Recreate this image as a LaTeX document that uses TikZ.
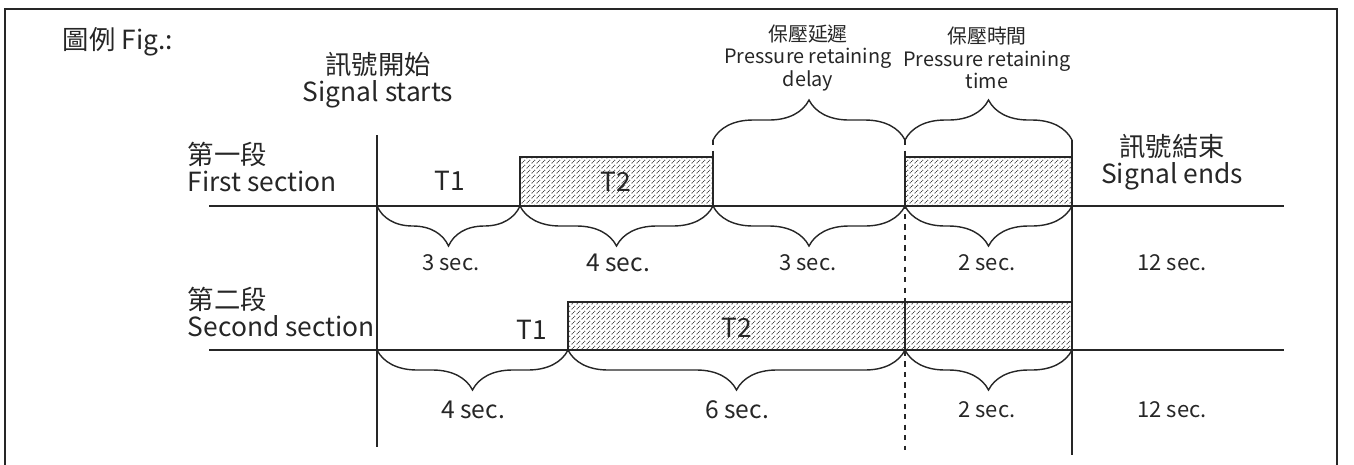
\documentclass[tikz,border=0pt]{standalone}
\usepackage{fontspec}
\setmainfont{Noto Sans CJK TC}
\usetikzlibrary{patterns.meta, decorations.pathreplacing}

\tikzdeclarepattern{
  name=finehatch,
  type=uncolored,
  bottom left={(0pt,0pt)},
  top right={(2.6pt,2.6pt)},
  tile size={(2.6pt,2.6pt)},
  code={\draw[line width=0.5pt, dash pattern=on 0.6pt off 0.5pt] (-0.2pt,-0.2pt) -- (2.8pt,2.8pt);}
}

\begin{document}
\begin{tikzpicture}[x=0.02cm, y=-0.02cm, line width=1.1pt, color=black!85,
    lbl/.style={font=\fontsize{15}{15}\selectfont, inner sep=0pt},
    small/.style={font=\fontsize{11.3}{12.8}\selectfont, align=center, inner sep=0pt},
    secs/.style={font=\fontsize{12.5}{13}\selectfont, inner sep=0pt},
    secb/.style={font=\fontsize{14}{14}\selectfont, inner sep=0pt},
    hatch/.style={draw, pattern=finehatch, pattern color=black!75},
    bracedown/.style={decorate, line width=0.8pt, decoration={brace, mirror, amplitude=0.8cm}},
    braceup/.style={decorate, line width=0.8pt, decoration={brace, amplitude=0.8cm}}]
    \useasboundingbox (0,0) rectangle (1354,464);
    \draw[line width=1pt] (5,9) rectangle (1337,480);

    % time marks
    \coordinate (s1) at (377,206);
    \coordinate (a1) at (520,206);
    \coordinate (b1) at (713,206);
    \coordinate (c1) at (905,206);
    \coordinate (e1) at (1072,206);
    \coordinate (s2) at (377,350);
    \coordinate (d2) at (568,350);
    \coordinate (c2) at (905,350);
    \coordinate (e2) at (1072,350);
    \coordinate (bt) at (713,140);
    \coordinate (ct) at (905,140);
    \coordinate (et) at (1072,140);

    % labels
    \node[lbl, anchor=west] (fig) at (62,42) {圖例 Fig.:};
    \node[lbl, align=center] (start) at (378,80) {訊號開始\\Signal starts};
    \node[lbl, align=left, anchor=west] (first) at (187,167) {第一段\\First section};
    \node[lbl, align=left, anchor=west] (second) at (187,312) {第二段\\Second section};
    \node[lbl, align=center] (stop) at (1172,162) {訊號結束\\Signal ends};
    \node[small] (delay) at (808,58) {保壓延遲\\Pressure retaining\\delay};
    \node[small] (hold) at (987,58) {保壓時間\\Pressure retaining\\time};

    % guide lines
    \draw (377,135) -- (377,447);
    \draw[dashed] (bt) -- (713,157);
    \draw[dashed] (ct) -- (905,450);
    \draw (et) -- (1072,455);

    % boxes
    \draw[hatch] (a1) rectangle (713,157);
    \draw[hatch] (c1) rectangle (1072,157);
    \draw[hatch] (d2) rectangle (1072,302);
    \draw (c2) -- (905,302);

    % base lines
    \draw (209,206) -- (1284,206);
    \draw (209,350) -- (1284,350);

    \node[lbl] (t11) at (450,181) {T1};
    \node[lbl] (t21) at (616,182) {T2};
    \node[lbl] (t12) at (532,330) {T1};
    \node[lbl] (t22) at (737,328) {T2};

    % braces
    \draw[bracedown] (s1) -- (a1);
    \draw[bracedown] (a1) -- (b1);
    \draw[bracedown] (b1) -- (c1);
    \draw[bracedown] (c1) -- (e1);
    \draw[bracedown] (s2) -- (d2);
    \draw[bracedown] (d2) -- (c2);
    \draw[bracedown] (c2) -- (e2);
    \draw[braceup] (bt) -- (ct);
    \draw[braceup] (ct) -- (et);

    \node[secs] (w1) at (451,263) {3 sec.};
    \node[secb] (w2) at (618,263) {4 sec.};
    \node[secs] (w3) at (808,263) {3 sec.};
    \node[secs] (w4) at (987,263) {2 sec.};
    \node[secs] (w5) at (1172,263) {12 sec.};
    \node[secb] (v1) at (473,410) {4 sec.};
    \node[secb] (v2) at (737,410) {6 sec.};
    \node[secs] (v3) at (987,410) {2 sec.};
    \node[secs] (v4) at (1172,410) {12 sec.};
\end{tikzpicture}
\end{document}
